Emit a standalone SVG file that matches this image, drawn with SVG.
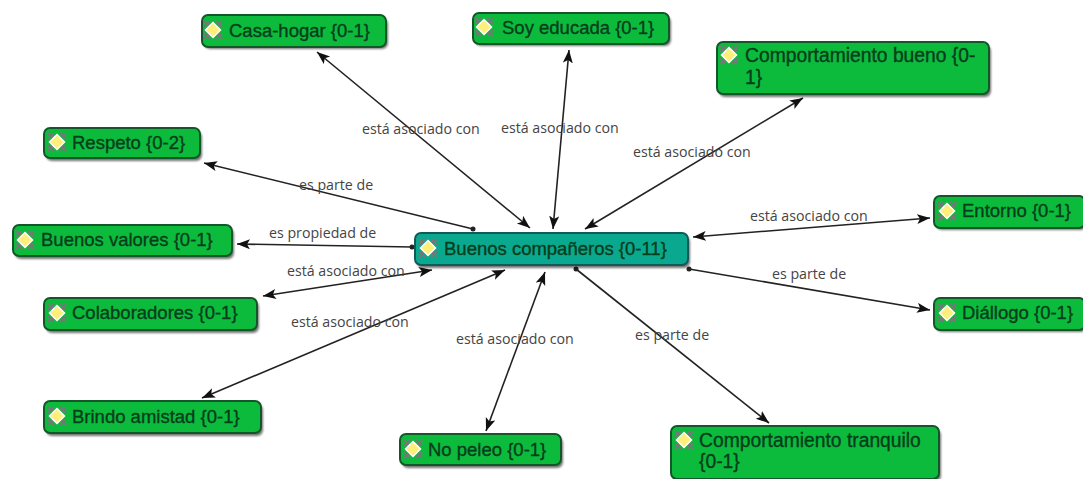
<svg xmlns="http://www.w3.org/2000/svg" width="1083" height="479" viewBox="0 0 1083 479">
<style>
.n{fill:#0cbb3c;stroke:#14562a;stroke-width:2}
.c{fill:#0aa98f;stroke:#125a5a;stroke-width:2}
.s{fill:#000;opacity:.55;filter:url(#b)}
.t{font:18.5px "Liberation Sans",Arial,sans-serif;fill:#063d1c;stroke:#063d1c;stroke-width:.35}
.w{font-size:19.3px}
.l{font:14.2px "Open Sans","Noto Sans",sans-serif;fill:#444}
.e{fill:none;stroke:#222;stroke-width:1.6}
.d{fill:#222}
</style>
<defs>
<filter id="b" x="-10%" y="-30%" width="120%" height="160%"><feGaussianBlur stdDeviation="1.300"/></filter>
<marker id="a" markerWidth="15" markerHeight="12" refX="13" refY="5" orient="auto-start-reverse" markerUnits="userSpaceOnUse"><path d="M0 0L13 5L0 10L3 5Z" fill="#111"/></marker>
<g id="i"><path d="M-9-9L9 9M9-9L-9 9M-3-9L-9-3M3-9L9-3M-3 9L-9 3M3 9L9 3" stroke="#777" stroke-width="2" fill="none"/><path d="M0-7.500L7.500 0L0 7.500L-7.500 0Z" fill="#ffef7a" stroke="#fff" stroke-width="1.500"/></g>
</defs>
<g id="connectors">
<path class="e" d="M317 52L530 228" marker-start="url(#a)" marker-end="url(#a)"/>
<path class="e" d="M569 50L553 229" marker-start="url(#a)" marker-end="url(#a)"/>
<path class="e" d="M803 98L585 229" marker-start="url(#a)" marker-end="url(#a)"/>
<path class="e" d="M204 163L473 229" marker-start="url(#a)"/><circle class="d" cx="473" cy="229" r="2.500"/>
<path class="e" d="M237 244L412 247" marker-start="url(#a)"/><circle class="d" cx="412" cy="247" r="2.500"/>
<path class="e" d="M263 296L432 270" marker-start="url(#a)" marker-end="url(#a)"/>
<path class="e" d="M202 398L505 270" marker-start="url(#a)" marker-end="url(#a)"/>
<path class="e" d="M486 431L545 272" marker-start="url(#a)" marker-end="url(#a)"/>
<path class="e" d="M769 423L576 269" marker-start="url(#a)"/><circle class="d" cx="576" cy="269" r="2.500"/>
<path class="e" d="M693 237L930 218" marker-start="url(#a)" marker-end="url(#a)"/>
<path class="e" d="M930 310L689 269" marker-start="url(#a)"/><circle class="d" cx="689" cy="269" r="2.500"/>
</g>
<g id="labels">
<text class="l" x="362" y="134">está asociado con</text>
<text class="l" x="501" y="133">está asociado con</text>
<text class="l" x="633" y="157">está asociado con</text>
<text class="l" x="299" y="190">es parte de</text>
<text class="l" x="269" y="238">es propiedad de</text>
<text class="l" x="287" y="276">está asociado con</text>
<text class="l" x="291" y="327">está asociado con</text>
<text class="l" x="456" y="344">está asociado con</text>
<text class="l" x="635" y="340">es parte de</text>
<text class="l" x="750" y="221">está asociado con</text>
<text class="l" x="772" y="279">es parte de</text>
</g>
<g id="n-casa"><rect class="s" x="204" y="18" width="184" height="31" rx="6"/><rect class="n" x="202" y="15" width="184" height="32" rx="6"/><use href="#i" x="213" y="30"/><text class="t" x="229" y="37">Casa-hogar {0-1}</text></g>
<g id="n-soy"><rect class="s" x="475" y="16" width="196" height="30" rx="6"/><rect class="n" x="473" y="13" width="196" height="31" rx="6"/><use href="#i" x="484" y="27"/><text class="t" x="502" y="34">Soy educada {0-1}</text></g>
<g id="n-bueno"><rect class="s" x="719" y="45" width="272" height="52" rx="6"/><rect class="n" x="717" y="42" width="272" height="52" rx="6"/><use href="#i" x="729" y="55"/><text class="t w" x="745" y="62">Comportamiento bueno {0-</text><text class="t w" x="745" y="84">1}</text></g>
<g id="n-respeto"><rect class="s" x="46" y="131" width="156" height="30" rx="6"/><rect class="n" x="44" y="128" width="156" height="30" rx="6"/><use href="#i" x="57" y="142"/><text class="t" x="72" y="149">Respeto {0-2}</text></g>
<g id="n-valores"><rect class="s" x="15" y="228" width="219" height="31" rx="6"/><rect class="n" x="13" y="225" width="219" height="31" rx="6"/><use href="#i" x="25" y="240"/><text class="t" x="41" y="246">Buenos valores {0-1}</text></g>
<g id="n-colab"><rect class="s" x="46" y="301" width="213" height="32" rx="6"/><rect class="n" x="44" y="298" width="213" height="32" rx="6"/><use href="#i" x="57" y="313"/><text class="t" x="72" y="319">Colaboradores {0-1}</text></g>
<g id="n-brindo"><rect class="s" x="46" y="404" width="217" height="32" rx="6"/><rect class="n" x="44" y="401" width="217" height="32" rx="6"/><use href="#i" x="57" y="416"/><text class="t" x="72" y="423">Brindo amistad {0-1}</text></g>
<g id="n-peleo"><rect class="s" x="402" y="437" width="161" height="31" rx="6"/><rect class="n" x="400" y="434" width="161" height="31" rx="6"/><use href="#i" x="413" y="449"/><text class="t" x="428" y="456">No peleo {0-1}</text></g>
<g id="n-tranquilo"><rect class="s" x="673" y="429" width="268" height="53" rx="6"/><rect class="n" x="671" y="426" width="268" height="53" rx="6"/><use href="#i" x="684" y="440"/><text class="t w" x="699" y="447">Comportamiento tranquilo</text><text class="t w" x="699" y="468">{0-1}</text></g>
<g id="n-entorno"><rect class="s" x="936" y="199" width="151" height="31" rx="6"/><rect class="n" x="934" y="196" width="151" height="32" rx="6"/><use href="#i" x="947" y="211"/><text class="t" x="962" y="217">Entorno {0-1}</text></g>
<g id="n-dialogo"><rect class="s" x="936" y="301" width="151" height="31" rx="6"/><rect class="n" x="934" y="298" width="151" height="32" rx="6"/><use href="#i" x="947" y="313"/><text class="t" x="962" y="319">Diállogo {0-1}</text></g>
<g id="n-centro"><rect class="s" x="417" y="236" width="273" height="32" rx="6"/><rect class="c" x="415" y="233" width="273" height="32" rx="6"/><use href="#i" x="428" y="248"/><text class="t" x="444" y="255">Buenos compañeros {0-11}</text></g>
</svg>
